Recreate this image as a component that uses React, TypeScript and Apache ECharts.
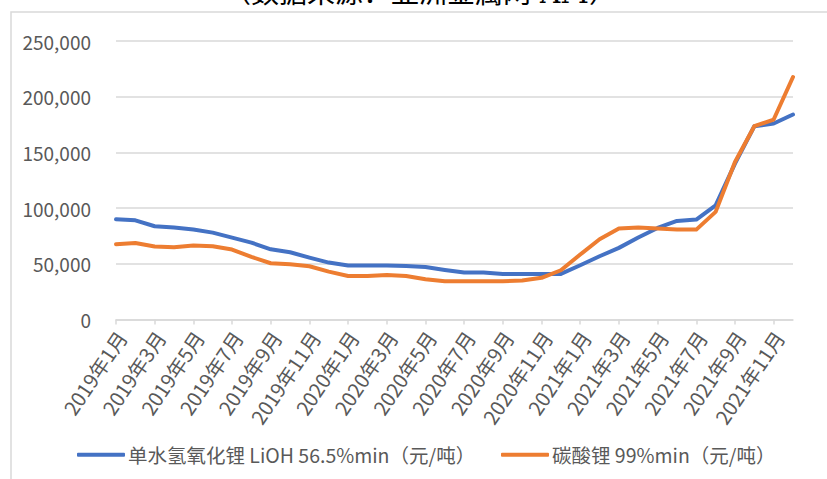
import React, { useEffect, useRef } from "react";
import * as echarts from "echarts";

const years = [2019, 2020, 2021];
const categories: string[] = [];
years.forEach((y) => {
  for (let m = 1; m <= 12; m++) categories.push(`${y}年${m}月`);
});

const seriesNames = [
  "单水氢氧化锂 LiOH 56.5%min（元/吨）",
  "碳酸锂 99%min（元/吨）",
];

const lioh = [
  90000, 89000, 83700, 82500, 80700, 78000, 73500, 69000, 63000, 60400, 55600, 51100,
  48400, 48400, 48400, 48000, 47200, 44500, 42100, 42100, 40900, 40900, 40900, 40900,
  48700, 56800, 64300, 73600, 82200, 88500, 89700, 102500, 140000, 173500, 175900, 184000,
];

const li2co3 = [
  67600, 68700, 65500, 64900, 66400, 65800, 62800, 56200, 50500, 49600, 47800, 43000,
  39100, 39100, 40000, 39100, 36200, 34400, 34400, 34400, 34400, 35000, 37400, 44200,
  58300, 72000, 81600, 82500, 81600, 80700, 80700, 96600, 141400, 173500, 179500, 217700,
];

const yTicks = { min: 0, max: 250000, interval: 50000 };
const titleText = "（数据来源：亚洲金属网 AM）";

const FONT = "'Noto Sans CJK SC', 'Noto Sans', sans-serif";
const GRAY = "#595959";

export default function App() {
  const ref = useRef<HTMLDivElement>(null);
  useEffect(() => {
    if (!ref.current) return;
    const chart = echarts.init(ref.current, undefined, { renderer: "svg" });
    chart.setOption({
      animation: false,
      backgroundColor: "#ffffff",
      graphic: [
        {
          type: "rect",
          shape: { x: 11, y: 12, width: 830, height: 480 },
          style: { fill: "none", stroke: "#d9d9d9", lineWidth: 1.5 },
          silent: true,
        },
        {
          type: "text",
          x: 420,
          y: 7,
          style: {
            text: titleText,
            fill: "#000000",
            font: "28px 'DejaVu Serif', 'Noto Sans CJK SC', serif",
            align: "center",
            verticalAlign: "bottom",
          },
        },
      ],
      legend: [
        {
          data: [seriesNames[0]],
          left: 72,
          top: 440,
          itemWidth: 48,
          itemHeight: 4,
          icon: "roundRect",
          textStyle: { color: GRAY, fontSize: 19.5, fontFamily: FONT, padding: [0, 0, 0, -2] },
        },
        {
          data: [seriesNames[1]],
          left: 496,
          top: 440,
          itemWidth: 48,
          itemHeight: 4,
          icon: "roundRect",
          textStyle: { color: GRAY, fontSize: 19.5, fontFamily: FONT, padding: [0, 0, 0, -2] },
        },
      ],
      grid: { left: 116, top: 41, width: 677, height: 278.5, containLabel: false },
      xAxis: {
        type: "category",
        data: categories,
        boundaryGap: false,
        axisLine: { lineStyle: { color: "#d9d9d9", width: 1.5 } },
        axisTick: { interval: 1, length: 5, lineStyle: { color: "#d9d9d9", width: 1.5 } },
        axisLabel: {
          interval: 1,
          rotate: 56,
          margin: 22,
          padding: [0, -10, 0, 0],
          color: GRAY,
          fontSize: 20,
          fontFamily: FONT,
        },
        splitLine: { show: false },
      },
      yAxis: {
        type: "value",
        min: yTicks.min,
        max: yTicks.max,
        interval: yTicks.interval,
        axisLine: { show: false },
        axisTick: { show: false },
        axisLabel: {
          margin: 25,
          color: GRAY,
          fontSize: 19,
          fontFamily: FONT,
          formatter: (v: number) => v.toLocaleString("en-US"),
        },
        splitLine: { lineStyle: { color: "#d9d9d9", width: 1.5 } },
      },
      series: [
        {
          name: seriesNames[0],
          type: "line",
          data: lioh,
          symbol: "none",
          lineStyle: { color: "#4472C4", width: 4, cap: "round", join: "round" },
          itemStyle: { color: "#4472C4" },
        },
        {
          name: seriesNames[1],
          type: "line",
          data: li2co3,
          symbol: "none",
          lineStyle: { color: "#ED7D31", width: 4, cap: "round", join: "round" },
          itemStyle: { color: "#ED7D31" },
        },
      ],
    });
    return () => chart.dispose();
  }, []);
  return <div ref={ref} style={{ width: 827, height: 479, position: "absolute", left: 0, top: 0 }} />;
}
